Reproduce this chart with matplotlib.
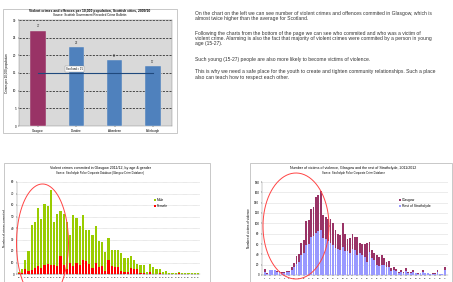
import matplotlib
matplotlib.use("Agg")
import numpy as np
import matplotlib.pyplot as plt
from matplotlib.patches import Rectangle

plt.rcParams['font.family'] = ['Liberation Sans', 'DejaVu Sans']

W, H = 453, 282

# top-left chart: crimes per 10,000 population
cities = ["Glasgow", "Dundee", "Aberdeen", "Edinburgh"]
city_rates = [27, 22.3, 18.7, 17]
city_labels = ["27", "22", "19", "17"]
city_colors = ["#993366", "#4F81BD", "#4F81BD", "#4F81BD"]
scotland_rate = 15

# bottom-left chart: crimes by age & gender (Glasgow 2011/12)
ages_gl = list(range(10, 67))
crimes_total = [2, 4, 12, 20, 43, 45, 57, 48, 61, 59, 73, 45, 52, 55, 52, 45, 34, 51, 49, 42,
                51, 38, 38, 34, 42, 29, 28, 19, 31, 21, 21, 21, 18, 14, 14, 16, 12, 9, 8, 8,
                2, 9, 6, 4, 4, 2, 3, 1, 1, 1, 2, 1, 1, 1, 1, 1, 1]
crimes_female = [0.5, 1, 4, 3, 3.5, 5, 7, 5, 8, 9, 8, 8, 7, 16, 8, 4, 10, 7, 10, 8,
                 12, 11, 9, 5, 10, 6, 7, 3, 12, 7, 6, 6, 3, 2, 2, 5, 4, 4, 1, 1,
                 0, 2, 0, 0, 1, 0, 0, 0, 0, 0, 1, 0, 0, 0, 0, 0, 0]
crimes_male = [t - f for t, f in zip(crimes_total, crimes_female)]

# bottom-right chart: victims by age, Glasgow vs rest of Strathclyde
ages_v = list(range(1, 76))
victims_total = [11, 3, 10, 10, 10, 8, 8, 6, 6, 8, 8, 15, 24, 37, 40, 62, 67, 105, 106, 127,
                 132, 151, 155, 162, 116, 112, 109, 109, 100, 87, 80, 77, 100, 80, 69, 71, 80, 74, 74, 61,
                 60, 60, 61, 64, 48, 43, 39, 35, 39, 32, 26, 27, 13, 15, 11, 6, 10, 5, 13, 6,
                 6, 10, 4, 3, 4, 10, 4, 4, 2, 3, 3, 10, 2, 2, 15]
victims_rest = [6, 2, 9, 9, 9, 6, 6, 4, 4, 5, 5, 9, 15, 22, 25, 38, 42, 58, 60, 74,
                75, 82, 85, 88, 72, 70, 66, 62, 58, 52, 50, 48, 55, 47, 47, 42, 51, 48, 39, 43,
                39, 35, 26, 45, 32, 29, 19, 17, 19, 19, 15, 15, 8, 9, 7, 4, 6, 3, 8, 4,
                4, 6, 3, 2, 3, 6, 3, 3, 1, 2, 2, 6, 1, 1, 9]
victims_glasgow = [t - r for t, r in zip(victims_total, victims_rest)]

paragraphs = [
    ["On the chart on the left we can see number of violent crimes and offences commited in Glasgow, which is",
     "almost twice higher than the average for Scotland."],
    ["Following the charts from the bottom of the page we can see who commited and who was a victim of",
     "violent crime. Alarming is also the fact that majority of violent crimes were commited by a person in young",
     "age (15-27)."],
    ["Such young (15-27) people are also more likely to become victims of violence."],
    ["This is why we need a safe place for the youth to create and tighten community relationships. Such a place",
     "also can teach how to respect each other."],
]
para_tops = [13, 33, 60, 72]


def box(x0, y0, x1, y1):
    return [x0 / W, 1 - y1 / H, (x1 - x0) / W, (y1 - y0) / H]


def frame(fig, x0, y0, x1, y1):
    fig.add_artist(Rectangle((x0 / W, 1 - y1 / H), (x1 - x0) / W, (y1 - y0) / H,
                             transform=fig.transFigure, fill=False,
                             edgecolor="#BFBFBF", lw=0.6))


fig = plt.figure(figsize=(W / 100, H / 100), dpi=100)
fig.patch.set_facecolor("white")

tick_fs = 2.2

# ---------- top-left bar chart
frame(fig, 3, 9, 177, 133)
ax1 = fig.add_axes(box(19, 20, 172, 126))
ax1.set_facecolor("#D9D9D9")
xs = range(len(cities))
ax1.bar(xs, city_rates, width=0.4, color=city_colors, edgecolor="#DDDDDD", linewidth=0.3, zorder=3)
for x, v, lab in zip(xs, city_rates, city_labels):
    ax1.text(x, v + 0.6, lab, ha="center", va="bottom", fontsize=2.2, color="#333333")
ax1.plot([0, 3], [scotland_rate, scotland_rate], color="#1F497D", lw=0.8, zorder=4)
ax1.text(0.72, scotland_rate + 1.1, "Scotland = 15", fontsize=2.0, va="center", ha="left", zorder=5,
         bbox=dict(boxstyle="square,pad=0.3", fc="white", ec="#888888", lw=0.3))
ax1.set_xlim(-0.5, 3.5)
ax1.set_ylim(0, 30)
ax1.set_yticks(range(0, 31, 5))
ax1.set_xticks(list(xs))
ax1.set_xticklabels(cities)
ax1.yaxis.grid(True, linestyle=(0, (2.5, 1.5)), color="#303030", lw=0.6)
ax1.set_axisbelow(True)
ax1.tick_params(labelsize=tick_fs, length=1, width=0.3, pad=1)
for s in ax1.spines.values():
    s.set_linewidth(0.3)
    s.set_color("#808080")
ax1.set_ylabel("Crimes per 10,000 population", fontsize=2.2, labelpad=3)
fig.text(90 / W, 1 - 11 / H, "Violent crimes and offences per 10,000 population, Scottish cities, 2009/10",
         fontsize=2.4, fontweight="bold", ha="center", va="center")
fig.text(90 / W, 1 - 15 / H, "Source: Scottish Government Recorded Crime Bulletin",
         fontsize=2.2, ha="center", va="center")

# ---------- top-right text
for top, lines in zip(para_tops, paragraphs):
    for k, line in enumerate(lines):
        fig.text(195 / W, 1 - (top + k * 5.5) / H, line, fontsize=3.6, ha="left", va="center",
                 color="#333333")

# ---------- bottom-left stacked bar chart
frame(fig, 4, 163, 210, 290)
ax2 = fig.add_axes(box(17, 182, 200, 274))
xi = range(len(ages_gl))
ax2.bar(xi, crimes_female, width=0.7, color="#FF0000", label="Female", zorder=3)
ax2.bar(xi, crimes_male, bottom=crimes_female, width=0.7, color="#99CC00", label="Male", zorder=3)
ax2.set_xlim(-0.6, len(ages_gl) - 0.4)
ax2.set_ylim(0, 80)
ax2.set_yticks(range(0, 81, 10))
ax2.set_xticks(list(xi))
ax2.set_xticklabels([str(a) for a in ages_gl])
ax2.yaxis.grid(True, linestyle=(0, (1, 1)), color="#BBBBBB", lw=0.4)
ax2.set_axisbelow(True)
ax2.tick_params(labelsize=1.6, length=1, width=0.3, pad=1)
ax2.tick_params(axis="y", labelsize=tick_fs)
for s in ["top", "right"]:
    ax2.spines[s].set_visible(False)
for s in ["left", "bottom"]:
    ax2.spines[s].set_linewidth(0.3)
    ax2.spines[s].set_color("#808080")
ax2.set_ylabel("Number of crimes commited", fontsize=2.2, labelpad=3)
h, l = ax2.get_legend_handles_labels()
ax2.legend(h[::-1], l[::-1], loc="upper left", bbox_to_anchor=(0.73, 0.86), frameon=False,
           fontsize=2.4, handlelength=0.6, handleheight=0.6, labelspacing=0.6, handletextpad=0.4)
fig.text(100 / W, 1 - 168 / H, "Violent crimes commited in Glasgow 2011/12, by age & gender",
         fontsize=2.6, ha="center", va="center")
fig.text(100 / W, 1 - 173 / H, "Source: Strathclyde Police Corporate Database (Glasgow Crime Database)",
         fontsize=1.9, ha="center", va="center")

# ---------- bottom-right stacked bar chart
frame(fig, 250, 163, 452, 290)
ax3 = fig.add_axes(box(262, 182, 448, 275))
xv = range(len(ages_v))
ax3.bar(xv, victims_rest, width=0.75, color="#9999FF", label="Rest of Strathclyde", zorder=3)
ax3.bar(xv, victims_glasgow, bottom=victims_rest, width=0.75, color="#993366",
        label="Glasgow", zorder=3)
ax3.set_xlim(-1.2, len(ages_v) + 0.3)
ax3.set_ylim(0, 180)
ax3.set_yticks(range(0, 181, 20))
ax3.set_xticks(list(xv)[::2])
ax3.set_xticklabels([str(a) for a in ages_v[::2]])
ax3.yaxis.grid(True, color="#DDDDDD", lw=0.4)
ax3.set_axisbelow(True)
ax3.tick_params(labelsize=1.6, length=1, width=0.3, pad=1)
ax3.tick_params(axis="y", labelsize=tick_fs)
for s in ["top", "right"]:
    ax3.spines[s].set_visible(False)
for s in ["left", "bottom"]:
    ax3.spines[s].set_linewidth(0.3)
    ax3.spines[s].set_color("#808080")
ax3.set_ylabel("Number of victims of violence", fontsize=2.2, labelpad=2)
h, l = ax3.get_legend_handles_labels()
ax3.legend(h[::-1], l[::-1], loc="upper left", bbox_to_anchor=(0.72, 0.86), frameon=False,
           fontsize=2.4, handlelength=0.6, handleheight=0.6, labelspacing=0.6, handletextpad=0.4)
fig.text(353 / W, 1 - 168 / H, "Number of victims of violence, Glasgow and the rest of Strathclyde, 2011/2012",
         fontsize=2.6, ha="center", va="center")
fig.text(353 / W, 1 - 173 / H, "Source: Strathclyde Police Corporate Crime Database",
         fontsize=1.9, ha="center", va="center")

# highlight rings over the young age groups, on a transparent page-sized overlay
over = fig.add_axes([0, 0, 1, 1], zorder=50)
over.set_xlim(0, W)
over.set_ylim(H, 0)
over.axis("off")
over.patch.set_alpha(0)
t = np.linspace(0, 2 * np.pi, 240)
for cx, cy, rw, rh in [(42.5, 243, 26, 59), (296, 226, 33, 53)]:
    over.plot(cx + rw * np.cos(t), cy + rh * np.sin(t), color="#FF4444", lw=0.7, clip_on=False)

fig.savefig("out.png", dpi=100, facecolor="white")
